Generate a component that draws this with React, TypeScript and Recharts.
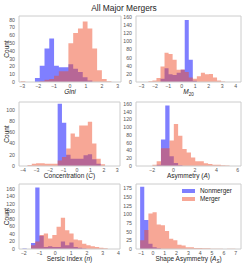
import React from 'react';
import { ComposedChart, Area, XAxis, YAxis, ReferenceArea, Legend } from 'recharts';

const FONT = '"Liberation Sans", Arial, Helvetica, sans-serif';
const BLUE = '#0000ff';
const RED = '#f0502e';
const BLUE_OP = 0.5;
const RED_OP = 0.5;

// ---------- Panel 1: Gini ----------
const giniEdges = [-3.1, -2.8, -2.5, -2.2, -1.9, -1.6, -1.3, -1.0, -0.7, -0.4, -0.1, 0.2, 0.5, 0.8, 1.1, 1.4, 1.7, 2.0, 2.3, 2.6];
const giniNon = [0, 0, 0, 5, 21, 43, 56, 21, 19, 19, 23, 17, 13, 6, 2, 0, 0, 0, 0];
const giniMer = [1, 0, 0, 0, 1, 3, 4, 8, 14, 14, 50, 63, 69, 78, 69, 43, 15, 4, 1];
const giniXTicks = [-3, -2, -1, 0, 1, 2, 3];
const giniYTicks = [0, 10, 20, 30, 40, 50, 60, 70, 80];

// ---------- Panel 2: M20 ----------
const m20Edges = [-2.48, -2.18, -1.88, -1.58, -1.28, -0.98, -0.68, -0.38, -0.08, 0.22, 0.52, 0.82, 1.12, 1.42, 1.72, 2.02, 2.32, 2.62, 2.92, 3.22];
const m20Non = [0, 0, 0, 8, 34, 19, 17, 23, 30, 153, 55, 3, 0, 0, 0, 0, 0, 0, 0];
const m20Mer = [2, 4, 10, 38, 72, 69, 55, 30, 31, 25, 11, 8, 14, 23, 19, 20, 11, 4, 1];
const m20XTicks = [-3, -2, -1, 0, 1, 2, 3, 4];
const m20YTicks = [0, 20, 40, 60, 80, 100, 120, 140, 160];

// ---------- Panel 3: Concentration ----------
const concEdges = [-3.67, -3.35, -3.03, -2.71, -2.39, -2.07, -1.75, -1.43, -1.11, -0.79, -0.47, -0.15, 0.17, 0.49, 0.81, 1.13, 1.45, 1.77, 2.09];
const concNon = [0, 0, 0, 0, 0, 0, 0, 111, 77, 20, 13, 13, 13, 19, 21, 12, 4, 0];
const concMer = [2, 4, 5, 5, 4, 4, 4, 10, 16, 31, 58, 52, 72, 72, 79, 40, 13, 3];
const concXTicks = [-4, -3, -2, -1, 0, 1, 2, 3];
const concYTicks = [0, 20, 40, 60, 80, 100];

// ---------- Panel 4: Asymmetry ----------
const asymEdges = [-1.97, -1.57, -1.17, -0.77, -0.37, 0.03, 0.43, 0.83, 1.23, 1.63, 2.03, 2.43, 2.83, 3.23, 3.63, 4.03, 4.43, 4.83, 5.23];
const asymNon = [0, 3, 68, 156, 25, 8, 2, 0, 0, 0, 0, 0, 0, 0, 0, 0, 0, 0];
const asymMer = [3, 12, 46, 46, 66, 108, 78, 44, 35, 22, 12, 12, 7, 5, 3, 3, 2, 1];
const asymXTicks = [-2, 0, 2, 4, 6];
const asymYTicks = [0, 20, 40, 60, 80, 100, 120, 140, 160];

// ---------- Panel 5: Sersic index ----------
const sersEdges = [-2.08, -1.81, -1.54, -1.27, -1.0, -0.73, -0.46, -0.19, 0.08, 0.35, 0.62, 0.89, 1.16, 1.43, 1.70, 1.97, 2.24, 2.51, 2.78, 3.05, 3.32];
const sersNon = [1, 0, 16, 164, 35, 5, 7, 5, 5, 20, 10, 17, 5, 3, 1, 0, 0, 0, 0, 0];
const sersMer = [0, 0, 10, 20, 37, 41, 28, 37, 59, 83, 50, 41, 25, 23, 14, 10, 7, 5, 3, 2];
const sersXTicks = [-2, -1, 0, 1, 2, 3, 4];
const sersYTicks = [0, 20, 40, 60, 80, 100, 120, 140, 160];

// ---------- Panel 6: Shape asymmetry ----------
const shapeEdges = [-1.08, -0.73, -0.38, -0.03, 0.32, 0.67, 1.02, 1.37, 1.72, 2.07, 2.42, 2.77, 3.12, 3.47, 3.82, 4.17, 4.52, 4.87, 5.22, 5.57, 5.92, 6.27, 6.62, 6.97];
const shapeNon = [180, 84, 15, 5, 2, 0, 0, 0, 0, 0, 0, 0, 0, 0, 0, 0, 0, 0, 0, 0, 0, 0, 0];
const shapeMer = [25, 55, 103, 106, 71, 69, 52, 30, 25, 12, 10, 5, 5, 3, 3, 2, 2, 1, 1, 1, 0, 1, 1];
const shapeXTicks = [-1, 0, 1, 2, 3, 4, 5, 6, 7];
const shapeYTicks = [0, 25, 50, 75, 100, 125, 150, 175];

const seriesNames = ['Nonmerger', 'Merger'];

function buildRows(edges: number[], non: number[], mer: number[]) {
  return edges.map((x, i) => ({ x, non: i < non.length ? non[i] : 0, mer: i < mer.length ? mer[i] : 0 }));
}

const fmt = (v: number) => String(v).replace('-', '\u2212');

type PanelProps = {
  left: number; top: number; boxW: number; boxH: number; yAxisW: number;
  edges: number[]; non: number[]; mer: number[];
  xDomain: [number, number]; yMax: number; xTicks: number[]; yTicks: number[];
  xLabel: React.ReactNode; showCount?: boolean; showLegend?: boolean;
};

const MT = 4;
const MR = 2;
const XH = 14;

function XLabelContent(label: React.ReactNode) {
  return (props: any) => {
    const vb = props.viewBox || {};
    return (
      <text x={vb.x + vb.width / 2} y={vb.y + 12} textAnchor="middle" fontSize={6.5} fill="#262626" fontFamily={FONT}>
        {label}
      </text>
    );
  };
}

function YLabelContent(props: any) {
  const vb = props.viewBox || {};
  const cx = vb.x + 6.3;
  const cy = vb.y + vb.height / 2;
  return (
    <text x={cx} y={cy} transform={`rotate(-90 ${cx} ${cy})`} textAnchor="middle" dominantBaseline="central" fontSize={6.5} fill="#262626" fontFamily={FONT}>
      Count
    </text>
  );
}

function LegendContent() {
  const colors = [
    { c: BLUE, o: BLUE_OP },
    { c: RED, o: RED_OP },
  ];
  return (
    <div style={{ fontFamily: FONT, fontSize: 6.4, color: '#262626', lineHeight: '8px' }}>
      {seriesNames.map((n, i) => (
        <div key={n} style={{ display: 'flex', alignItems: 'center', height: 8 }}>
          <span style={{ display: 'inline-block', width: 13, height: 4.5, background: colors[i].c, opacity: colors[i].o, marginRight: 5 }} />
          <span>{n}</span>
        </div>
      ))}
    </div>
  );
}

function Panel(p: PanelProps) {
  const data = buildRows(p.edges, p.non, p.mer);
  const width = p.yAxisW + p.boxW + MR;
  const height = MT + p.boxH + XH;
  return (
    <div style={{ position: 'absolute', left: p.left - p.yAxisW, top: p.top - MT, width, height }}>
      <ComposedChart width={width} height={height} data={data} margin={{ top: MT, right: MR, left: 0, bottom: 0 }}>
        <XAxis
          type="number"
          dataKey="x"
          domain={p.xDomain}
          ticks={p.xTicks}
          allowDataOverflow
          interval={0}
          tickLine={false}
          axisLine={false}
          tickSize={0}
          tickMargin={2}
          height={XH}
          tickFormatter={fmt}
          tick={{ fontSize: 5.2, fill: '#555', fontFamily: FONT }}
          label={{ content: XLabelContent(p.xLabel) } as any}
        />
        <YAxis
          type="number"
          domain={[0, p.yMax]}
          ticks={p.yTicks}
          allowDataOverflow
          interval={0}
          tickLine={false}
          axisLine={false}
          tickSize={0}
          tickMargin={4}
          width={p.yAxisW}
          tickFormatter={fmt}
          tick={{ fontSize: 5.2, fill: '#555', fontFamily: FONT }}
          label={p.showCount ? ({ content: YLabelContent } as any) : undefined}
        />
        <Area type="stepAfter" dataKey="non" name={seriesNames[0]} fill={BLUE} fillOpacity={BLUE_OP} stroke="none" isAnimationActive={false} dot={false} activeDot={false} />
        <Area type="stepAfter" dataKey="mer" name={seriesNames[1]} fill={RED} fillOpacity={RED_OP} stroke="none" isAnimationActive={false} dot={false} activeDot={false} />
        <ReferenceArea x1={p.xDomain[0]} x2={p.xDomain[1]} y1={0} y2={p.yMax} fill="none" fillOpacity={0} stroke="#cccccc" strokeWidth={1} ifOverflow="visible" />
        {p.showLegend ? (
          <Legend layout="vertical" align="center" verticalAlign="middle" content={LegendContent as any} wrapperStyle={{ position: 'absolute', left: 64, top: 7, width: 60 }} />
        ) : null}
      </ComposedChart>
    </div>
  );
}

export default function App() {
  const it = (s: string) => <tspan fontStyle="italic">{s}</tspan>;
  return (
    <div style={{ position: 'absolute', left: 0, top: 0, width: 245, height: 274, background: '#fff', overflow: 'hidden', fontFamily: FONT }}>
      <div style={{ position: 'absolute', left: 0, top: 3, width: 248, textAlign: 'center', fontSize: 8.4, lineHeight: '10px', color: '#262626' }}>
        All Major Mergers
      </div>
      <Panel left={19} top={16} boxW={102} boxH={66} yAxisW={19} edges={giniEdges} non={giniNon} mer={giniMer}
        xDomain={[-3.2, 3.2]} yMax={85} xTicks={giniXTicks} yTicks={giniYTicks} xLabel={it('Gini')} showCount />
      <Panel left={136} top={16} boxW={105} boxH={66} yAxisW={18} edges={m20Edges} non={m20Non} mer={m20Mer}
        xDomain={[-3.4, 4.4]} yMax={163} xTicks={m20XTicks} yTicks={m20YTicks}
        xLabel={<>{it('M')}<tspan fontSize={4.5} dy={1.5}>20</tspan></>} />
      <Panel left={19} top={102} boxW={101} boxH={64} yAxisW={19} edges={concEdges} non={concNon} mer={concMer}
        xDomain={[-4.3, 3.2]} yMax={114} xTicks={concXTicks} yTicks={concYTicks}
        xLabel={<>Concentration ({it('C')})</>} showCount />
      <Panel left={136} top={102} boxW={105} boxH={64} yAxisW={18} edges={asymEdges} non={asymNon} mer={asymMer}
        xDomain={[-3.5, 6.3]} yMax={165} xTicks={asymXTicks} yTicks={asymYTicks}
        xLabel={<>Asymmetry ({it('A')})</>} />
      <Panel left={19} top={184} boxW={101} boxH={65} yAxisW={19} edges={sersEdges} non={sersNon} mer={sersMer}
        xDomain={[-2.3, 4.1]} yMax={173} xTicks={sersXTicks} yTicks={sersYTicks}
        xLabel={<>Sersic Index ({it('n')})</>} showCount />
      <Panel left={136} top={184} boxW={105} boxH={65} yAxisW={18} edges={shapeEdges} non={shapeNon} mer={shapeMer}
        xDomain={[-1.43, 7.45]} yMax={188} xTicks={shapeXTicks} yTicks={shapeYTicks}
        xLabel={<>Shape Asymmetry ({it('A')}<tspan fontStyle="italic" fontSize={4.5} dy={1.5}>S</tspan><tspan dy={-1.5}>)</tspan></>}
        showLegend />
    </div>
  );
}
